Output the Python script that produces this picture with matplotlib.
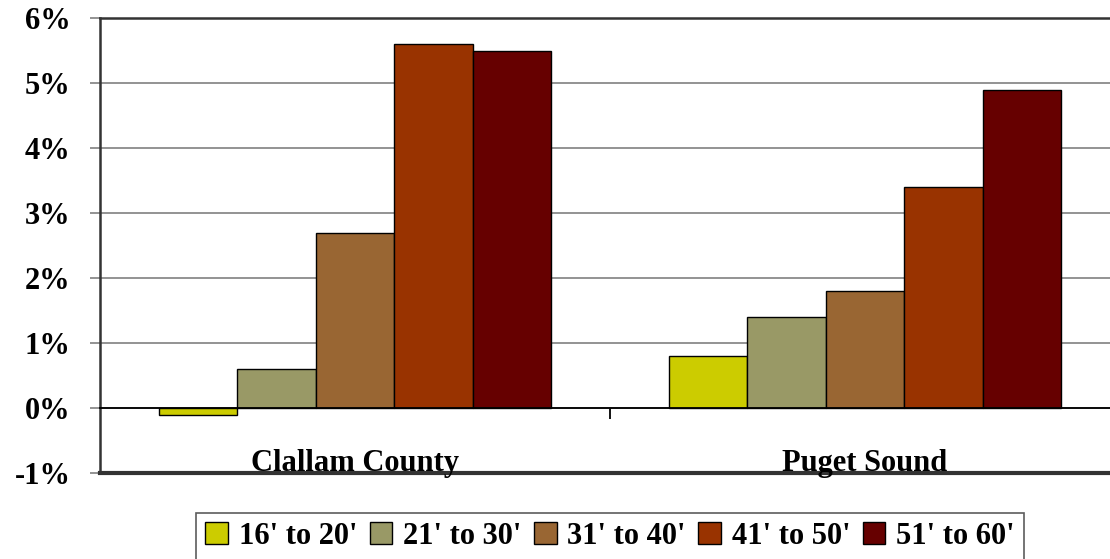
import matplotlib.pyplot as plt
import numpy as np

plt.rcParams['font.family'] = ['Liberation Serif', 'DejaVu Serif']
plt.rcParams['font.weight'] = 'bold'

regions = ["Clallam County", "Puget Sound"]
sizes = ["16' to 20'", "21' to 30'", "31' to 40'", "41' to 50'", "51' to 60'"]
growth = {
    "16' to 20'": [-0.1, 0.8],
    "21' to 30'": [0.6, 1.4],
    "31' to 40'": [2.7, 1.8],
    "41' to 50'": [5.6, 3.4],
    "51' to 60'": [5.5, 4.9],
}
colors = ["#CCCC00", "#999966", "#996633", "#993300", "#660000"]

fig = plt.figure(figsize=(11.1, 5.59), dpi=100)
ax = fig.add_axes([100 / 1110, 86 / 559, 1020 / 1110, 455 / 559])

x = np.arange(len(regions))
w = 0.154
for i, s in enumerate(sizes):
    ax.bar(x + (i - 2) * w, growth[s], w, color=colors[i], edgecolor='black',
           linewidth=1, label=s, zorder=3)

ax.set_xlim(-0.5, 1.5)
ax.set_ylim(-1, 6)
ax.set_yticks(range(-1, 7))
ax.set_yticklabels([f"{v}%" for v in range(-1, 7)], fontsize=22, fontweight='bold')
ax.yaxis.grid(True, color='#808080', linewidth=1.2)
ax.tick_params(axis='y', length=7, width=1.2, color='#808080', pad=14)

# category axis sits on the zero line
ax.spines['bottom'].set_position(('data', 0))
ax.spines['bottom'].set_color('black')
ax.spines['bottom'].set_linewidth(1.3)
ax.spines['bottom'].set_zorder(4)
ax.set_xticks([0.5])
ax.set_xticklabels([])
ax.tick_params(axis='x', which='major', length=8, width=1.3, direction='out')

for sp in ['left', 'top', 'right']:
    ax.spines[sp].set_color('#333333')
    ax.spines[sp].set_linewidth(1.8)
# plot-area frame along the bottom
ax.axhline(-1, color='#333333', linewidth=3, clip_on=False, zorder=5)

# category names sit on the bottom frame line
for xi, name in zip(x, regions):
    ax.text(xi, -0.97, name, ha='center', va='baseline', fontsize=22,
            fontweight='bold', zorder=6)

leg = ax.legend(loc='upper center', bbox_to_anchor=(0.5, -0.087), ncol=5,
                frameon=True, fancybox=False, edgecolor='#333333',
                prop={'size': 22, 'weight': 'bold'}, handlelength=0.75,
                handleheight=0.75, handletextpad=0.35, columnspacing=0.4,
                borderpad=0.3, borderaxespad=0)
leg.get_frame().set_linewidth(1.2)

fig.savefig("out.png", dpi=100)
